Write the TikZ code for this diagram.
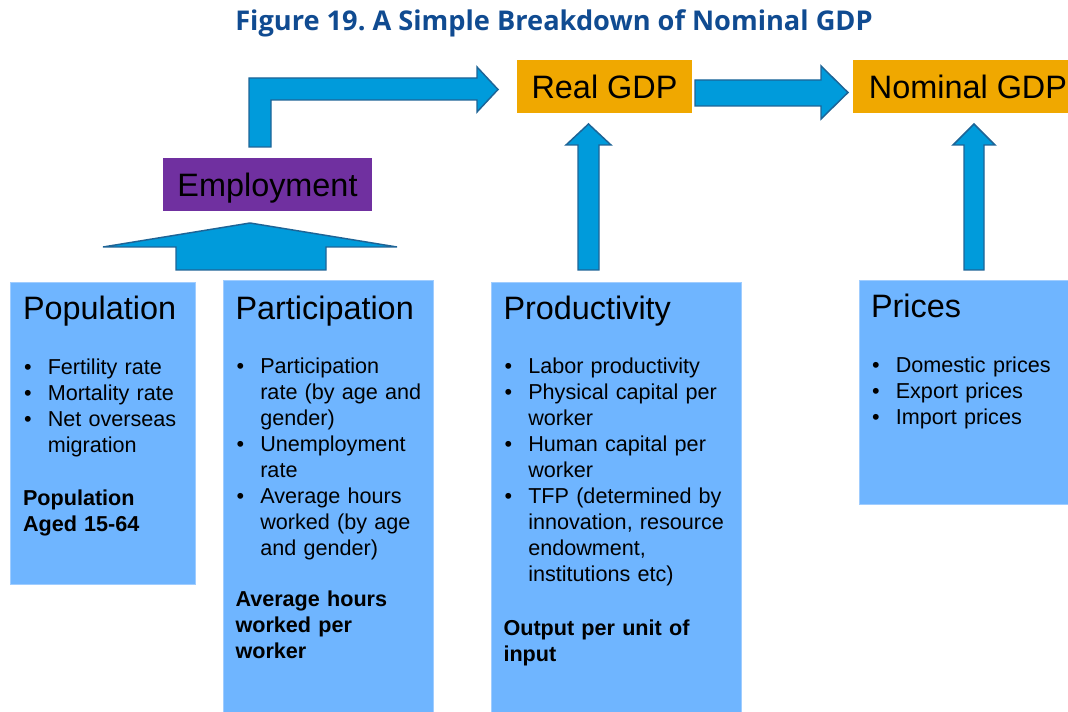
\documentclass[tikz,border=0pt]{standalone}
\usepackage{fontspec}
\setmainfont{Liberation Sans}
\newfontfamily\titlefont{Open Sans}
\frenchspacing

\definecolor{titleblue}{RGB}{16,75,145}
\definecolor{gdporange}{RGB}{240,168,0}
\definecolor{emppurple}{RGB}{112,48,160}
\definecolor{boxblue}{RGB}{111,181,255}
\definecolor{boxedge}{RGB}{160,205,255}
\definecolor{arrowfill}{RGB}{0,155,219}
\definecolor{arrowedge}{RGB}{30,100,150}

% bullet line with hanging indent, \brk breaks inside the item
\newcommand{\brk}{\hfil\break}
\newcommand{\bitem}[1]{\hangindent=18.6pt\hangafter=1\noindent\makebox[18.6pt][l]{\hspace{0.75pt}\textbullet}#1\par}

\tikzset{every picture/.style={line width=0.75pt}}
\tikzset{
  blockarrow/.style={fill=arrowfill, draw=arrowedge, line width=1.1pt, line join=miter},
  gdpbox/.style={fill=gdporange},
  empbox/.style={fill=emppurple},
  infobox/.style={fill=boxblue, draw=boxedge, line width=0.6pt},
  bigtext/.style={font=\fontsize{24.3}{29}\selectfont, inner sep=0pt, text depth=0pt},
  boxhead/.style={font=\fontsize{24.3}{29}\selectfont, inner sep=0pt, anchor=base west},
  itemlist/.style={font=\fontsize{16.2}{19.5}\selectfont, inner sep=0pt, anchor=base west, text width=190pt},
  boxnote/.style={font=\fontsize{16.2}{19.5}\selectfont\bfseries, inner sep=0pt, anchor=base west, text width=190pt},
}

\begin{document}
\begin{tikzpicture}[x=0.75pt,y=0.75pt,yscale=-1,xscale=1]
\useasboundingbox (0,0) rectangle (1068,712);

% Title
\node[font=\titlefont\bfseries\fontsize{20.4}{24}\selectfont, text=titleblue, anchor=base, inner sep=0pt] (title) at (554,31) {Figure 19. A Simple Breakdown of Nominal GDP};

%Shape: Rectangle -- Real GDP
\fill[gdpbox] (517,60) rectangle (692,113);
\node[bigtext] (real) at (604.5,86.5) {Real GDP};
%Shape: Rectangle -- Nominal GDP
\fill[gdpbox] (853,60) rectangle (1083,113);
\node[bigtext] (nominal) at (968,86.5) {Nominal GDP};
%Shape: Rectangle -- Employment
\fill[empbox] (163,158) rectangle (372,211);
\node[bigtext] (emp) at (267.5,184.5) {Employment};

%Shape: Bent Arrow
\draw[blockarrow] (249,147) -- (249,78) -- (477,78) -- (477,67) -- (498,89.5) -- (477,112) -- (477,100) -- (271,100) -- (271,147) -- cycle;
%Shape: Up Arrow (wide)
\draw[blockarrow] (176,270) -- (176,247) -- (103,247) -- (250,223) -- (397,247) -- (326,247) -- (326,270) -- cycle;
%Shape: Right Arrow
\draw[blockarrow] (695,80) -- (821,80) -- (821,66) -- (848,92.5) -- (821,119) -- (821,106) -- (695,106) -- cycle;
%Shape: Up Arrow
\draw[blockarrow] (578,270) -- (578,145) -- (566,145) -- (588.5,124) -- (611,145) -- (599,145) -- (599,270) -- cycle;
%Shape: Up Arrow
\draw[blockarrow] (964,270) -- (964,145) -- (953,145) -- (974,124) -- (995,145) -- (984,145) -- (984,270) -- cycle;

%Shape: Rectangle -- Population
\draw[infobox] (10,282) rectangle (195,584);
\node[boxhead] (pophead) at (22.5,320) {Population};
\node[itemlist] (poplist) at (22.5,375) {\bitem{Fertility rate}\bitem{Mortality rate}\bitem{Net overseas\brk migration}};
\node[boxnote] (popnote) at (22.5,506) {Population\brk Aged 15-64};

%Shape: Rectangle -- Participation
\draw[infobox] (223,280) rectangle (433,713);
\node[boxhead] (parthead) at (235,319.5) {Participation};
\node[itemlist] (partlist) at (235,374) {\bitem{Participation\brk rate (by age and\brk gender)}\bitem{Unemployment\brk rate}\bitem{Average hours\brk worked (by age\brk and gender)}};
\node[boxnote] (partnote) at (235,607) {Average hours\brk worked per\brk worker};

%Shape: Rectangle -- Productivity
\draw[infobox] (491,282.5) rectangle (741.5,713);
\node[boxhead] (prodhead) at (503,320) {Productivity};
\node[itemlist] (prodlist) at (503,374) {\bitem{Labor productivity}\bitem{Physical capital per\brk worker}\bitem{Human capital per\brk worker}\bitem{TFP (determined by\brk innovation, resource\brk endowment,\brk institutions etc)}};
\node[boxnote] (prodnote) at (503,636) {Output per unit of\brk input};

%Shape: Rectangle -- Prices
\draw[infobox] (859,280) rectangle (1075,504);
\node[boxhead] (pricehead) at (870.5,318) {Prices};
\node[itemlist] (pricelist) at (870.5,373) {\bitem{Domestic prices}\bitem{Export prices}\bitem{Import prices}};

\end{tikzpicture}
\end{document}
